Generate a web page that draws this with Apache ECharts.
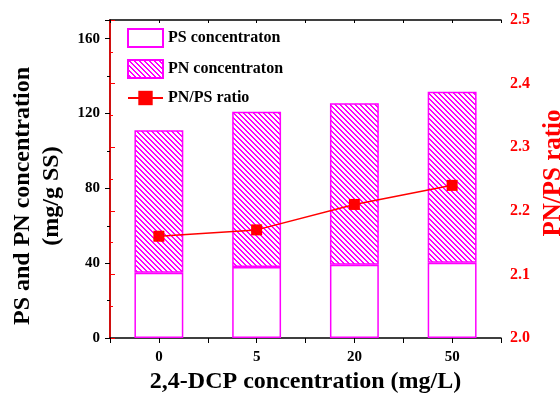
<!DOCTYPE html>
<html>
<head>
<meta charset="utf-8">
<script src="https://cdn.jsdelivr.net/npm/echarts@6/dist/echarts.min.js"></script>
<style>
  html, body { margin: 0; padding: 0; background: #fff; }
  #chart { width: 560px; height: 402px; }
</style>
</head>
<body>
<div id="chart"></div>
<script>
// data
const categories = ['0', '5', '20', '50'];
const psValues = [34.9, 37.9, 39.1, 40.2];
const pnValues = [76.2, 83.0, 86.4, 91.4];
const ratioValues = [2.16, 2.17, 2.21, 2.24];
const leftTicks = [0, 170, 40];
const rightTicks = [2.0, 2.5, 0.1];

const font = 'Liberation Serif';
const magenta = '#ff00ff';
const red = '#ff0000';

// diagonal hatch for the PN bars (crisp "\" stripes)
function hatchPattern() {
    let n = 5;
    let c = document.createElement('canvas');
    c.width = n;
    c.height = n;
    let ctx = c.getContext('2d');
    ctx.fillStyle = magenta;
    for (let i = 0; i < n; i++) {
        ctx.fillRect(i, i, 1, 1);
        ctx.fillRect((i + 1) % n, i, 1, 1);
    }
    return c;
}

let chartDom = document.getElementById('chart');
let chart = echarts.init(chartDom);
var option;

option = {
    animation: false,
    grid: {
        left: 110,
        right: 59,
        top: 20,
        bottom: 64,
        containLabel: false,
        outerBoundsMode: 'none'
    },
    legend: {
        orient: 'vertical',
        left: 122,
        top: 23,
        itemWidth: 35,
        itemHeight: 18,
        itemGap: 11,
        textStyle: {
            fontFamily: font,
            fontWeight: 'bold',
            fontSize: 16,
            color: '#000'
        },
        data: [
            { name: 'PS concentraton', icon: 'rect' },
            { name: 'PN concentraton', icon: 'rect' },
            { name: 'PN/PS ratio' }
        ]
    },
    xAxis: [
        {
            type: 'category',
            data: categories,
            position: 'bottom',
            axisLine: { lineStyle: { color: '#000', width: 1.5 } },
            axisTick: { show: false },
            axisLabel: {
                margin: 12,
                fontFamily: font,
                fontWeight: 'bold',
                fontSize: 15,
                color: '#000'
            },
            name: '2,4-DCP concentration (mg/L)',
            nameLocation: 'middle',
            nameGap: 30,
            nameTextStyle: {
                fontFamily: font,
                fontWeight: 'bold',
                fontSize: 24,
                color: '#000'
            }
        },
        {
            // tick marks at centres and boundaries, bottom
            type: 'value',
            position: 'bottom',
            min: 0,
            max: 8,
            interval: 1,
            axisLine: { show: false },
            axisTick: { show: true, inside: false, length: 5, lineStyle: { color: '#000', width: 1 } },
            axisLabel: { show: false },
            splitLine: { show: false }
        },
        {
            // top frame with small inner ticks
            type: 'value',
            position: 'top',
            min: 0,
            max: 8,
            interval: 1,
            axisLine: { show: true, lineStyle: { color: '#000', width: 1.5 } },
            axisTick: { show: true, inside: true, length: 3, lineStyle: { color: '#000', width: 1 } },
            axisLabel: { show: false },
            splitLine: { show: false }
        }
    ],
    yAxis: [
        {
            type: 'value',
            min: leftTicks[0],
            max: leftTicks[1],
            interval: leftTicks[2],
            axisLine: { show: true, lineStyle: { color: '#000', width: 1.5 } },
            axisTick: { show: true, length: 5, lineStyle: { color: '#000' } },
            minorTick: { show: true, splitNumber: 2, length: 3, lineStyle: { color: '#000' } },
            splitLine: { show: false },
            axisLabel: {
                showMaxLabel: false,
                margin: 10,
                fontFamily: font,
                fontWeight: 'bold',
                fontSize: 15,
                color: '#000'
            },
            name: 'PS and PN concentration\n(mg/g SS)',
            nameLocation: 'middle',
            nameGap: 43,
            nameRotate: 90,
            nameTextStyle: {
                fontFamily: font,
                fontWeight: 'bold',
                fontSize: 24,
                lineHeight: 29,
                color: '#000',
                padding: [0, 34, 0, 0]
            }
        },
        {
            type: 'value',
            position: 'right',
            min: rightTicks[0],
            max: rightTicks[1],
            interval: rightTicks[2],
            axisLine: { show: true, lineStyle: { color: red, width: 1.5 } },
            axisTick: { show: true, length: 5, lineStyle: { color: red } },
            minorTick: { show: true, splitNumber: 2, length: 3, lineStyle: { color: red } },
            splitLine: { show: false },
            axisLabel: {
                margin: 9,
                fontFamily: font,
                fontWeight: 'bold',
                fontSize: 16,
                color: red,
                formatter: v => v.toFixed(1)
            },
            name: 'PN/PS ratio',
            nameLocation: 'middle',
            nameGap: 37,
            nameRotate: 90,
            nameTextStyle: {
                fontFamily: font,
                fontWeight: 'bold',
                fontSize: 25,
                color: red,
                padding: [0, 0, 0, 12]
            }
        }
    ],
    series: [
        {
            name: 'PS concentraton',
            type: 'bar',
            stack: 'total',
            barWidth: '50%',
            xAxisIndex: 0,
            yAxisIndex: 0,
            itemStyle: { color: '#fff', borderColor: magenta, borderWidth: 1.5 },
            data: psValues
        },
        {
            name: 'PN concentraton',
            type: 'bar',
            stack: 'total',
            barWidth: '50%',
            xAxisIndex: 0,
            yAxisIndex: 0,
            itemStyle: {
                color: { image: hatchPattern(), repeat: 'repeat' },
                borderColor: magenta,
                borderWidth: 1.5
            },
            data: pnValues
        },
        {
            name: 'PN/PS ratio',
            type: 'line',
            xAxisIndex: 0,
            yAxisIndex: 1,
            symbol: 'rect',
            symbolSize: 11,
            z: 5,
            itemStyle: { color: red },
            lineStyle: { color: red, width: 1.5 },
            data: ratioValues
        }
    ]
};
chart.setOption(option);
</script>
</body>
</html>
